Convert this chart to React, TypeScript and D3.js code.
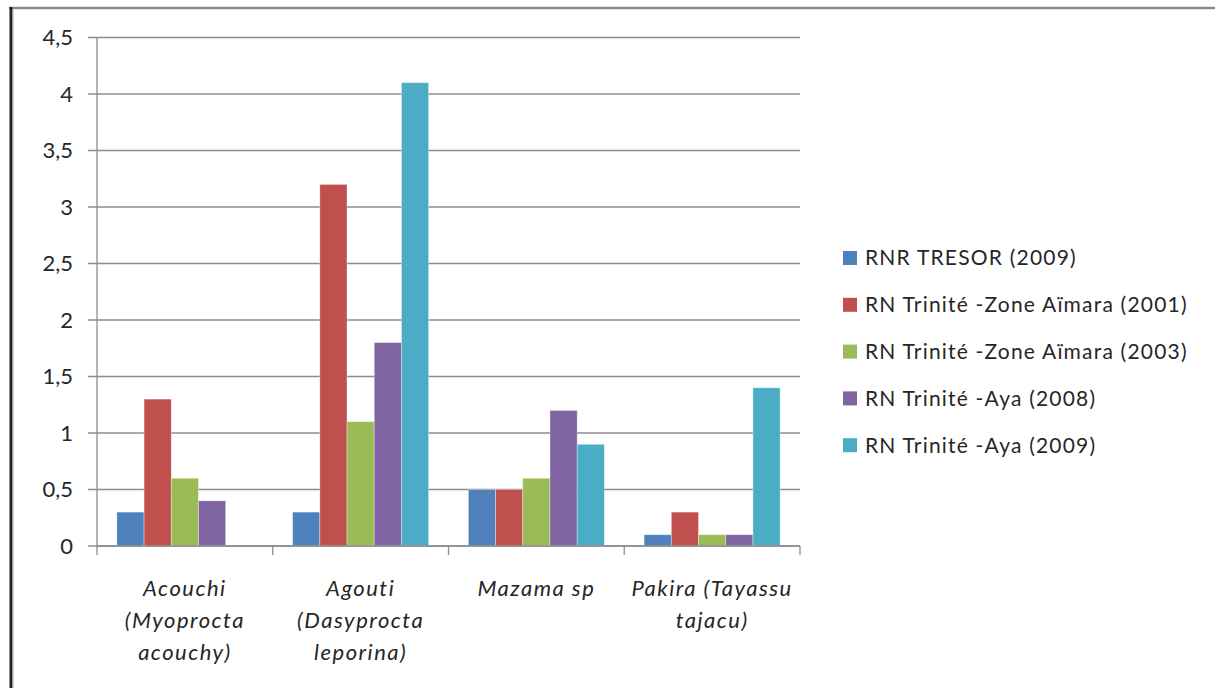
import * as d3 from 'd3'
import { useEffect, useRef } from 'react'

// categories on the x axis (each split over lines)
const categories = [
  ['Acouchi', '(Myoprocta', 'acouchy)'],
  ['Agouti', '(Dasyprocta', 'leporina)'],
  ['Mazama sp'],
  ['Pakira (Tayassu', 'tajacu)'],
]

const seriesNames = [
  'RNR TRESOR (2009)',
  'RN Trinité -Zone Aïmara (2001)',
  'RN Trinité -Zone Aïmara (2003)',
  'RN Trinité -Aya (2008)',
  'RN Trinité -Aya (2009)',
]

const seriesColors = ['#4F81BD', '#C0504D', '#9BBB59', '#8064A2', '#4BACC6']

// values per series, one per category
const tresor2009 = [0.3, 0.3, 0.5, 0.1]
const aimara2001 = [1.3, 3.2, 0.5, 0.3]
const aimara2003 = [0.6, 1.1, 0.6, 0.1]
const aya2008 = [0.4, 1.8, 1.2, 0.1]
const aya2009 = [0, 4.1, 0.9, 1.4]

const yTicks = [0, 0.5, 1, 1.5, 2, 2.5, 3, 3.5, 4, 4.5]

const W = 1215
const H = 688
const FONT = 'Lato, "Open Sans", sans-serif'

export default function App() {
  const svgRef = useRef(null)

  useEffect(() => {
    const svg = d3.select(svgRef.current)
    svg.selectAll('*').remove()

    const allSeries = [tresor2009, aimara2001, aimara2003, aya2008, aya2009]
    const left = 97, right = 800, top = 37.5, bottom = 546

    // frame
    svg.append('line').attr('x1', 9).attr('y1', 8).attr('x2', W).attr('y2', 8)
      .style('stroke', '#8a8a8a').style('stroke-width', 2.5)
    svg.append('line').attr('x1', 11).attr('y1', 7).attr('x2', 11).attr('y2', H)
      .style('stroke', '#222').style('stroke-width', 3)
    svg.append('line').attr('x1', 13).attr('y1', 10).attr('x2', 13).attr('y2', H)
      .style('stroke', '#aaa').style('stroke-width', 1)

    const xScale = d3.scaleBand<number>()
      .domain(d3.range(categories.length))
      .range([left, right])
      .paddingInner(0)
      .paddingOuter(0)

    const inner = d3.scaleBand<number>()
      .domain(d3.range(seriesNames.length))
      .range([0, xScale.bandwidth()])
      .paddingOuter(0.73)
      .paddingInner(0)

    const yScale = d3.scaleLinear().domain([0, 4.5]).range([bottom, top])

    // gridlines
    svg.append('g').selectAll('line')
      .data(yTicks)
      .enter()
      .append('line')
      .attr('x1', left - 9)
      .attr('x2', right)
      .attr('y1', d => yScale(d))
      .attr('y2', d => yScale(d))
      .style('stroke', '#8c8c8c')
      .style('stroke-width', 1.3)

    // y axis line
    svg.append('line').attr('x1', left).attr('x2', left).attr('y1', top).attr('y2', bottom)
      .style('stroke', '#8c8c8c').style('stroke-width', 1.3)

    // y labels
    svg.append('g').selectAll('text')
      .data(yTicks)
      .enter()
      .append('text')
      .attr('x', 73)
      .attr('y', d => yScale(d))
      .attr('dy', '0.35em')
      .attr('text-anchor', 'end')
      .style('font-family', FONT)
      .style('font-size', '22px')
      .style('fill', '#262626')
      .text(d => String(d).replace('.', ','))

    // bars
    allSeries.forEach((vals, s) => {
      svg.append('g').selectAll('rect')
        .data(vals)
        .enter()
        .append('rect')
        .attr('x', (_d, i) => xScale(i)! + inner(s)!)
        .attr('y', d => yScale(d))
        .attr('width', inner.bandwidth())
        .attr('height', d => bottom - yScale(d))
        .style('fill', seriesColors[s])
        .style('stroke', d => (d > 0 ? 'rgba(255,255,255,0.45)' : 'none'))
        .style('stroke-width', 0.8)
    })

    // x axis line + ticks
    svg.append('line').attr('x1', left).attr('x2', right).attr('y1', bottom).attr('y2', bottom)
      .style('stroke', '#8c8c8c').style('stroke-width', 1.3)
    svg.append('g').selectAll('line')
      .data(d3.range(categories.length + 1))
      .enter()
      .append('line')
      .attr('x1', i => left + i * xScale.bandwidth())
      .attr('x2', i => left + i * xScale.bandwidth())
      .attr('y1', bottom)
      .attr('y2', bottom + 9)
      .style('stroke', '#8c8c8c')
      .style('stroke-width', 1.3)

    // category labels
    const catG = svg.append('g')
    categories.forEach((lines, i) => {
      const cx = xScale(i)! + xScale.bandwidth() / 2
      const t = catG.append('text')
        .attr('x', cx)
        .attr('y', 596)
        .attr('text-anchor', 'middle')
        .style('font-family', FONT)
        .style('font-style', 'italic')
        .style('font-size', '22px')
        .style('letter-spacing', '1.5px')
        .style('fill', '#262626')
      lines.forEach((ln, k) => {
        t.append('tspan')
          .attr('x', cx)
          .attr('dy', k === 0 ? 0 : 32)
          .text(ln)
      })
    })

    // legend
    const legend = svg.append('g')
    seriesNames.forEach((name, s) => {
      const cy = 258 + s * 46.8
      legend.append('rect')
        .attr('x', 843)
        .attr('y', cy - 7)
        .attr('width', 14)
        .attr('height', 14)
        .style('fill', seriesColors[s])
      legend.append('text')
        .attr('x', 865)
        .attr('y', cy)
        .attr('dy', '0.35em')
        .style('font-family', FONT)
        .style('font-size', '21px')
        .style('letter-spacing', '1.2px')
        .style('fill', '#262626')
        .text(name)
    })
  }, [])

  return (
    <svg ref={svgRef} width={W} height={H}
      style={{ position: 'absolute', left: 0, top: 0, background: '#fff' }} />
  )
}
